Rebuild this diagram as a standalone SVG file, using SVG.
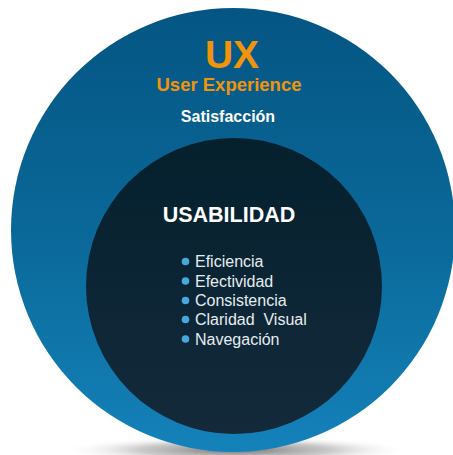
<svg xmlns="http://www.w3.org/2000/svg" width="453" height="455" viewBox="0 0 453 455">
  <defs>
    <linearGradient id="outerGrad" x1="0" y1="0" x2="0" y2="1">
      <stop offset="0" stop-color="#045583"/>
      <stop offset="0.5" stop-color="#0a6898"/>
      <stop offset="1" stop-color="#1482ba"/>
    </linearGradient>
    <linearGradient id="innerGrad" x1="0" y1="0" x2="0" y2="1">
      <stop offset="0" stop-color="#04202d"/>
      <stop offset="1" stop-color="#142a3b"/>
    </linearGradient>
    <radialGradient id="shadowGrad" cx="0.5" cy="0.5" r="0.5">
      <stop offset="0" stop-color="#5a5a5a" stop-opacity="0.85"/>
      <stop offset="0.55" stop-color="#8a8a8a" stop-opacity="0.45"/>
      <stop offset="1" stop-color="#ffffff" stop-opacity="0"/>
    </radialGradient>
    <style>
      .title { font-family: "Liberation Sans", Arial, sans-serif; font-weight: bold; text-anchor: middle; }
      .item { font-family: "Liberation Sans", Arial, sans-serif; font-size: 16px; fill: #e6edf2; white-space: pre; }
      .bullet { fill: #45a9dd; }
    </style>
  </defs>
  <rect width="453" height="455" fill="#ffffff"/>
  <ellipse cx="236" cy="450" rx="175" ry="14" fill="url(#shadowGrad)"/>
  <g id="ux">
    <circle cx="233" cy="230" r="222" fill="url(#outerGrad)"/>
    <text class="title" x="232" y="68" font-size="39" fill="#f0940c">UX</text>
    <text class="title" x="229" y="91" font-size="18.5" fill="#f0940c">User Experience</text>
    <text class="title" x="228" y="122" font-size="16" fill="#ffffff">Satisfacción</text>
  </g>
  <g id="usabilidad">
    <circle cx="234" cy="286" r="148" fill="url(#innerGrad)"/>
    <text class="title" x="229" y="222" font-size="21.5" fill="#ffffff">USABILIDAD</text>
    <circle class="bullet" cx="185.5" cy="261.5" r="3.8"/>
    <circle class="bullet" cx="185.5" cy="281" r="3.8"/>
    <circle class="bullet" cx="185.5" cy="300.5" r="3.8"/>
    <circle class="bullet" cx="185.5" cy="319.5" r="3.8"/>
    <circle class="bullet" cx="185.5" cy="339" r="3.8"/>
    <text class="item" x="195" y="267">Eficiencia</text>
    <text class="item" x="195" y="286.5">Efectividad</text>
    <text class="item" x="195" y="306">Consistencia</text>
    <text class="item" x="195" y="325">Claridad  Visual</text>
    <text class="item" x="195" y="344.5">Navegación</text>
  </g>
</svg>
